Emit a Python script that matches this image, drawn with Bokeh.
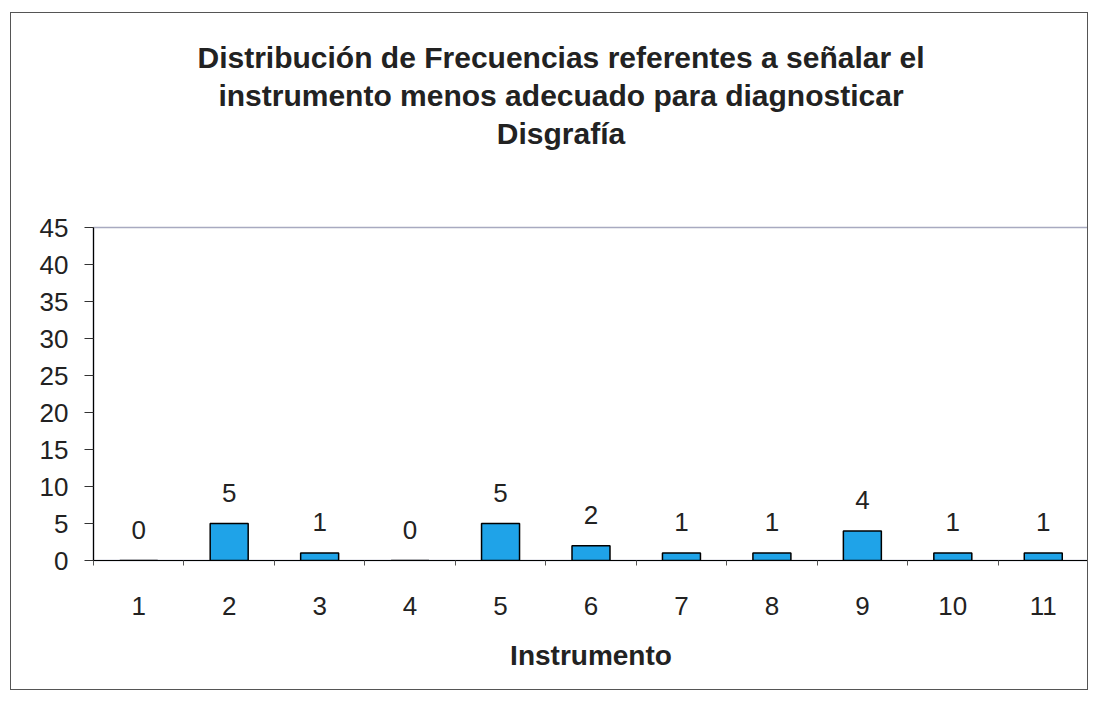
from bokeh.plotting import figure
from bokeh.models import ColumnDataSource, FixedTicker, Range1d, Title
from bokeh.core.properties import value
from bokeh.embed import file_html
from bokeh.resources import INLINE

instrumentos = [1, 2, 3, 4, 5, 6, 7, 8, 9, 10, 11]
frecuencias = [0, 5, 1, 0, 5, 2, 1, 1, 4, 1, 1]
y_ticks = [0, 5, 10, 15, 20, 25, 30, 35, 40, 45]
title_lines = ["Distribución de Frecuencias referentes a señalar el",
               "instrumento menos adecuado para diagnosticar",
               "Disgrafía"]
x_title = "Instrumento"

FONT = "Liberation Sans"

src = ColumnDataSource(dict(x=instrumentos, y=frecuencias,
                            lbl=[str(v) for v in frecuencias]))

p = figure(width=1078, height=678, output_backend="svg", toolbar_location=None,
           x_range=Range1d(0.5, 11.5), y_range=Range1d(0, 45),
           min_border_left=82, min_border_right=1, min_border_top=214,
           min_border_bottom=131)
p.styles = {"border": "1.5px solid #555", "box-sizing": "border-box",
            "margin-left": "10px", "margin-top": "12px"}
p.background_fill_color = "white"
p.border_fill_color = "white"
p.outline_line_color = "#a8aac0"
p.outline_line_width = 1.5
p.grid.visible = False

p.vbar(x="x", top="y", bottom=0, width=0.42, source=src,
       fill_color="#1fa3e8", line_color="black", line_width=1.5)
p.text(x="x", y="y", text="lbl", source=src, text_align="center",
       text_baseline="middle", y_offset=-31, text_font=value(FONT),
       text_font_size="26px", text_color="#222222")

# y axis
p.yaxis.ticker = FixedTicker(ticks=y_ticks)
p.yaxis.major_tick_out = 9
p.yaxis.major_tick_in = 0
p.yaxis.minor_tick_out = 0
p.yaxis.minor_tick_in = 0
p.yaxis.axis_line_color = "black"
p.yaxis.axis_line_width = 1.2
p.yaxis.major_tick_line_color = "#333333"
p.yaxis.major_label_standoff = 16
p.yaxis.major_label_text_font = FONT
p.yaxis.major_label_text_font_size = "26px"
p.yaxis.major_label_text_color = "#222222"

# x axis
p.xaxis.ticker = FixedTicker(ticks=instrumentos,
                             minor_ticks=[i + 0.5 for i in range(0, 12)])
p.xaxis.major_tick_out = 0
p.xaxis.major_tick_in = 0
p.xaxis.minor_tick_out = 5
p.xaxis.minor_tick_in = 0
p.xaxis.minor_tick_line_color = "#555555"
p.xaxis.axis_line_color = "black"
p.xaxis.axis_line_width = 1.2
p.xaxis.major_label_standoff = 31
p.xaxis.major_label_text_font = FONT
p.xaxis.major_label_text_font_size = "26px"
p.xaxis.major_label_text_color = "#222222"
p.xaxis.axis_label = x_title
p.xaxis.axis_label_text_font = FONT
p.xaxis.axis_label_text_font_style = "bold"
p.xaxis.axis_label_text_font_size = "28px"
p.xaxis.axis_label_text_color = "#222222"
p.xaxis.axis_label_standoff = 22

for i, line in enumerate(reversed(title_lines)):
    p.add_layout(Title(text=line, align="center", standoff=3,
                       padding=dict(left=0, right=60, top=0,
                                    bottom=76 if i == 0 else 0),
                       text_font=FONT, text_font_style="bold",
                       text_font_size="30px", text_color="#222222"), "above")

open("out.html", "w").write(file_html(p, INLINE))
